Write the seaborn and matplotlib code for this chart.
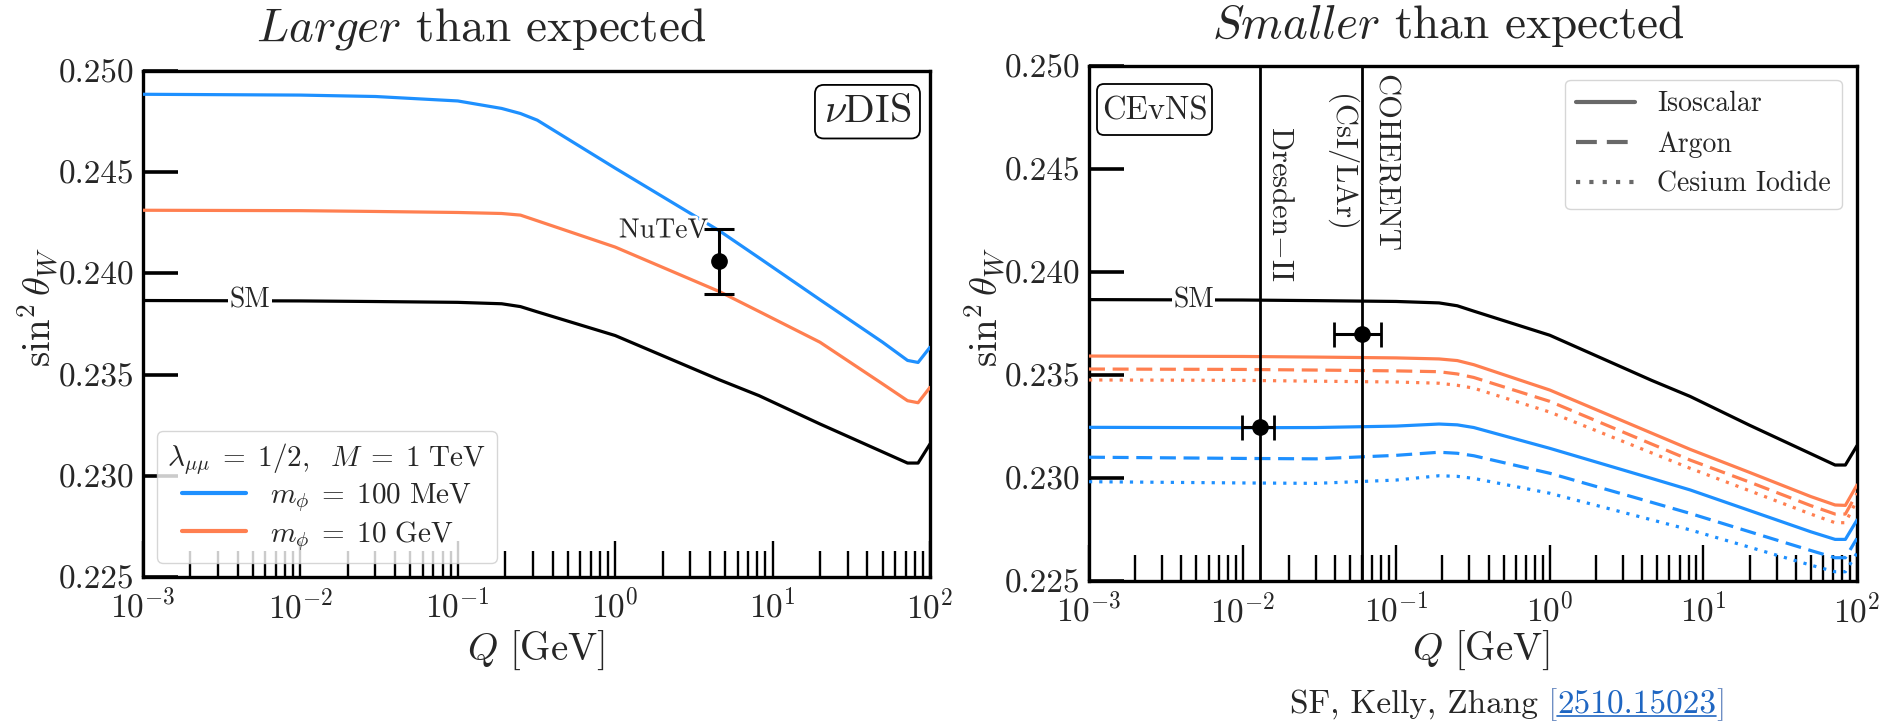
import numpy as np
import pandas as pd
import matplotlib
matplotlib.use("Agg")
import matplotlib.pyplot as plt
import seaborn as sns
from matplotlib.lines import Line2D
from matplotlib.patches import FancyBboxPatch
from matplotlib.ticker import FormatStrFormatter, FixedLocator
import matplotlib.patheffects as pe

# ---------------- data ----------------
Q = [1e-3, 1e-2, 3e-2, 0.1, 0.19, 0.25, 0.32, 1.0, 4.6, 8.2, 20, 50, 72, 84, 100]

sm = [0.23866, 0.23864, 0.23861, 0.23857, 0.23850, 0.23836, 0.23810, 0.23693,
      0.23474, 0.23396, 0.23256, 0.23118, 0.23063, 0.23063, 0.23157]

dis_100MeV = [0.24885, 0.24881, 0.24874, 0.24852, 0.24815, 0.24790, 0.24757, 0.24520,
              0.24210, 0.24077, 0.23870, 0.23660, 0.23570, 0.23560, 0.23635]
dis_10GeV = [0.24312, 0.24310, 0.24306, 0.24301, 0.24296, 0.24288, 0.24260, 0.24130,
             0.23910, 0.23812, 0.23660, 0.23454, 0.23371, 0.23361, 0.23437]

ce_iso_10GeV = [0.23592, 0.23590, 0.23587, 0.23583, 0.23578, 0.23570, 0.23550, 0.23427,
                0.23218, 0.23139, 0.23027, 0.22910, 0.22869, 0.22867, 0.22966]
ce_ar_10GeV = [0.23529, 0.23527, 0.23524, 0.23520, 0.23516, 0.23505, 0.23488, 0.23372,
               0.23165, 0.23087, 0.22980, 0.22866, 0.22825, 0.22825, 0.22926]
ce_csi_10GeV = [0.23476, 0.23474, 0.23470, 0.23466, 0.23460, 0.23450, 0.23436, 0.23320,
                0.23122, 0.23047, 0.22938, 0.22825, 0.22783, 0.22783, 0.22893]
ce_iso_100MeV = [0.23246, 0.23244, 0.23245, 0.23252, 0.23262, 0.23258, 0.23245, 0.23144,
                 0.22998, 0.22942, 0.22842, 0.22739, 0.22702, 0.22702, 0.22796]
ce_ar_100MeV = [0.23101, 0.23095, 0.23093, 0.23110, 0.23125, 0.23120, 0.23108, 0.23023,
                0.22882, 0.22828, 0.22739, 0.22648, 0.22613, 0.22613, 0.22707]
ce_csi_100MeV = [0.22982, 0.22976, 0.22974, 0.22990, 0.23011, 0.23008, 0.22998, 0.22926,
                 0.22797, 0.22748, 0.22664, 0.22577, 0.22545, 0.22545, 0.22636]

nutev_Q, nutev_s2w, nutev_err = [4.56], [0.2406], [0.0016]
dresden_Q, dresden_s2w, dresden_xerr = [0.0129], [0.2325], [0.0030]
coherent_Q, coherent_s2w, coherent_xerr = [0.0596], [0.2370], [0.0203]

yticks = [0.225, 0.230, 0.235, 0.240, 0.245, 0.250]

# ---------------- style ----------------
sns.set_theme(style="white")
plt.rcParams.update({
    "font.family": "serif",
    "font.serif": ["cmr10"],
    "mathtext.fontset": "cm",
    "axes.formatter.use_mathtext": True,
    "axes.unicode_minus": False,
    "legend.framealpha": 0.8,
    "legend.edgecolor": "0.8",
    "legend.fancybox": True,
})

BLUE = "#1E90FF"
ORANGE = "#FF7F50"
LW = 2.3
DASH = (0, (5, 2.4))
DOT = (0, (1, 2.2))

W, H = 1885, 721
fig = plt.figure(figsize=(W / 100, H / 100), dpi=100)
AX1_W, AX1_H = 787, 506
AX2_W, AX2_H = 768, 515
ax1 = fig.add_axes([143 / W, 1 - 577 / H, AX1_W / W, AX1_H / H])
ax2 = fig.add_axes([1089 / W, 1 - 581 / H, AX2_W / W, AX2_H / H])

for ax in (ax1, ax2):
    ax.set_xscale("log")


def curve(ax, y, color, ls="-", lw=LW, z=3):
    sns.lineplot(x=Q, y=y, ax=ax, color=color, linestyle=ls, linewidth=lw,
                 legend=False, zorder=z)


# ---- left panel: nu DIS ----
curve(ax1, sm, "black")
curve(ax1, dis_100MeV, BLUE)
curve(ax1, dis_10GeV, ORANGE)
ax1.errorbar(nutev_Q, nutev_s2w, yerr=nutev_err, fmt="o", color="black",
             ms=11, elinewidth=2.2, capsize=11, capthick=2.2, zorder=6)
ax1.text(3.9, 0.24213, "NuTeV", fontsize=20, ha="right", va="center", zorder=5,
         path_effects=[pe.withStroke(linewidth=4, foreground="white")])
ax1.text(0.0048, 0.23866, "SM", fontsize=20, ha="center", va="center", zorder=5,
         bbox=dict(facecolor="white", edgecolor="none", pad=1.0))
ax1.text(0.976, 0.955, r"$\nu$DIS", fontsize=29, ha="right", va="top",
         transform=ax1.transAxes,
         bbox=dict(boxstyle="round,pad=0.22", facecolor="white", edgecolor="black", lw=1.3))

h1 = [Line2D([], [], color=BLUE, lw=3.0), Line2D([], [], color=ORANGE, lw=3.0)]
leg1 = ax1.legend(h1, [r"$m_\phi\;=\;100~\mathrm{MeV}$", r"$m_\phi\;=\;10~\mathrm{GeV}$"],
                  title=r"$\lambda_{\mu\mu}\;=\;1/2,~\;M\;=\;1~\mathrm{TeV}$",
                  loc="lower left", bbox_to_anchor=(0.018, 0.028), borderaxespad=0,
                  fontsize=21, title_fontsize=21, handlelength=2.2, labelspacing=0.15,
                  borderpad=0.35)

# ---- right panel: CEvNS ----
ax2.axvline(dresden_Q[0], color="black", lw=2.0, zorder=4)
ax2.axvline(coherent_Q[0], color="black", lw=2.0, zorder=4)
curve(ax2, sm, "black")
curve(ax2, ce_iso_10GeV, ORANGE)
curve(ax2, ce_ar_10GeV, ORANGE, DASH)
curve(ax2, ce_csi_10GeV, ORANGE, DOT)
curve(ax2, ce_iso_100MeV, BLUE)
curve(ax2, ce_ar_100MeV, BLUE, DASH)
curve(ax2, ce_csi_100MeV, BLUE, DOT)
ax2.errorbar(dresden_Q, dresden_s2w, xerr=dresden_xerr, fmt="o", color="black",
             ms=11, elinewidth=2.2, capsize=9, capthick=2.0, zorder=6)
ax2.errorbar(coherent_Q, coherent_s2w, xerr=coherent_xerr, fmt="o", color="black",
             ms=11, elinewidth=2.2, capsize=9, capthick=2.0, zorder=6)
ax2.text(0.0048, 0.23864, "SM", fontsize=20, ha="center", va="center", zorder=5,
         bbox=dict(facecolor="white", edgecolor="none", pad=1.0))
ax2.text(0.0141, 0.2471, r"Dresden$-$II", fontsize=22, rotation=270,
         ha="left", va="top", zorder=5)
ax2.text(0.0596, 0.2496, "COHERENT\n(CsI/LAr)", fontsize=22, rotation=270,
         ha="center", va="top", multialignment="center", linespacing=1.65, zorder=3)

# CEvNS label in a rounded box (box size in axes fraction)
bx0, bx1 = 8 / AX2_W, 123 / AX2_W
by0, by1 = 446 / AX2_H, 497 / AX2_H
rr = 7 / AX2_W
ax2.add_patch(FancyBboxPatch((bx0, by0), bx1 - bx0, by1 - by0,
                             boxstyle=f"round,pad=0,rounding_size={rr}",
                             mutation_aspect=AX2_W / AX2_H,
                             transform=ax2.transAxes, facecolor="white",
                             edgecolor="black", lw=1.3, zorder=7))
ax2.text((bx0 + bx1) / 2, (by0 + by1) / 2 - 0.003, "CEvNS", fontsize=23.5,
         ha="center", va="center", transform=ax2.transAxes, zorder=8)

h2 = [Line2D([], [], color="dimgray", lw=3.0, ls="-"),
      Line2D([], [], color="dimgray", lw=3.0, ls=DASH),
      Line2D([], [], color="dimgray", lw=3.0, ls=DOT)]
leg2 = ax2.legend(h2, ["Isoscalar", "Argon", "Cesium Iodide"],
                  loc="upper right", bbox_to_anchor=(0.98, 0.973), borderaxespad=0,
                  fontsize=20, handlelength=2.1, labelspacing=0.5)

# ---- axes cosmetics ----
for ax in (ax1, ax2):
    ax.set_xlim(1e-3, 1e2)
    ax.set_ylim(0.225, 0.250)
    ax.yaxis.set_major_locator(FixedLocator(yticks))
    ax.yaxis.set_major_formatter(FormatStrFormatter("%.3f"))
    ax.tick_params(axis="x", which="major", direction="in", length=26, width=1.7,
                   bottom=True, top=False, labelsize=24, pad=8, color="black")
    ax.tick_params(axis="x", which="minor", direction="in", length=19, width=1.7,
                   bottom=True, top=False, color="black")
    ax.tick_params(axis="y", which="major", direction="in", length=25, width=2.6,
                   left=True, right=False, labelsize=24, pad=6, color="black")
    ax.tick_params(axis="y", which="minor", left=False, right=False)
    for s in ax.spines.values():
        s.set_linewidth(2.4)
        s.set_color("black")
    ax.set_xlabel("")
    ax.set_ylabel("")

# ---- figure texts ----
fig.text(481 / W, 1 - 40 / H, r"$\mathit{Larger}$ than expected", fontsize=34,
         ha="center", va="baseline")
fig.text(1448 / W, 1 - 38 / H, r"$\mathit{Smaller}$ than expected", fontsize=34,
         ha="center", va="baseline")
fig.text(38 / W, 1 - 307 / H, r"$\sin^2\theta_W$", fontsize=28, rotation=90,
         ha="center", va="center")
fig.text(985 / W, 1 - 307 / H, r"$\sin^2\theta_W$", fontsize=28, rotation=90,
         ha="center", va="center")
fig.text(536 / W, 1 - 650 / H, r"$Q\ [\mathrm{GeV}]$", fontsize=28, ha="center", va="center")
fig.text(1481 / W, 1 - 650 / H, r"$Q\ [\mathrm{GeV}]$", fontsize=28, ha="center", va="center")

# footer with link-style reference
LINK = "#1F66C2"
fig.canvas.draw()
r = fig.canvas.get_renderer()
yb = 1 - 713 / H
t1 = fig.text(1290 / W, yb, "SF, Kelly, Zhang", fontsize=24, ha="left", va="baseline")
b1 = t1.get_window_extent(r)
gap = 10
t2 = fig.text((b1.x1 + gap) / W, yb, "[", fontsize=24, ha="left", va="baseline", color="#6F8FC4")
b2 = t2.get_window_extent(r)
t3 = fig.text(b2.x1 / W, yb, "2510.15023", fontsize=24, ha="left", va="baseline", color=LINK)
b3 = t3.get_window_extent(r)
t4 = fig.text(b3.x1 / W, yb, "]", fontsize=24, ha="left", va="baseline", color="#6F8FC4")
fig.add_artist(Line2D([b3.x0 / W, b3.x1 / W], [yb - 3 / H, yb - 3 / H],
                      transform=fig.transFigure, color=LINK, lw=1.2))

fig.savefig("out.png", dpi=100)
